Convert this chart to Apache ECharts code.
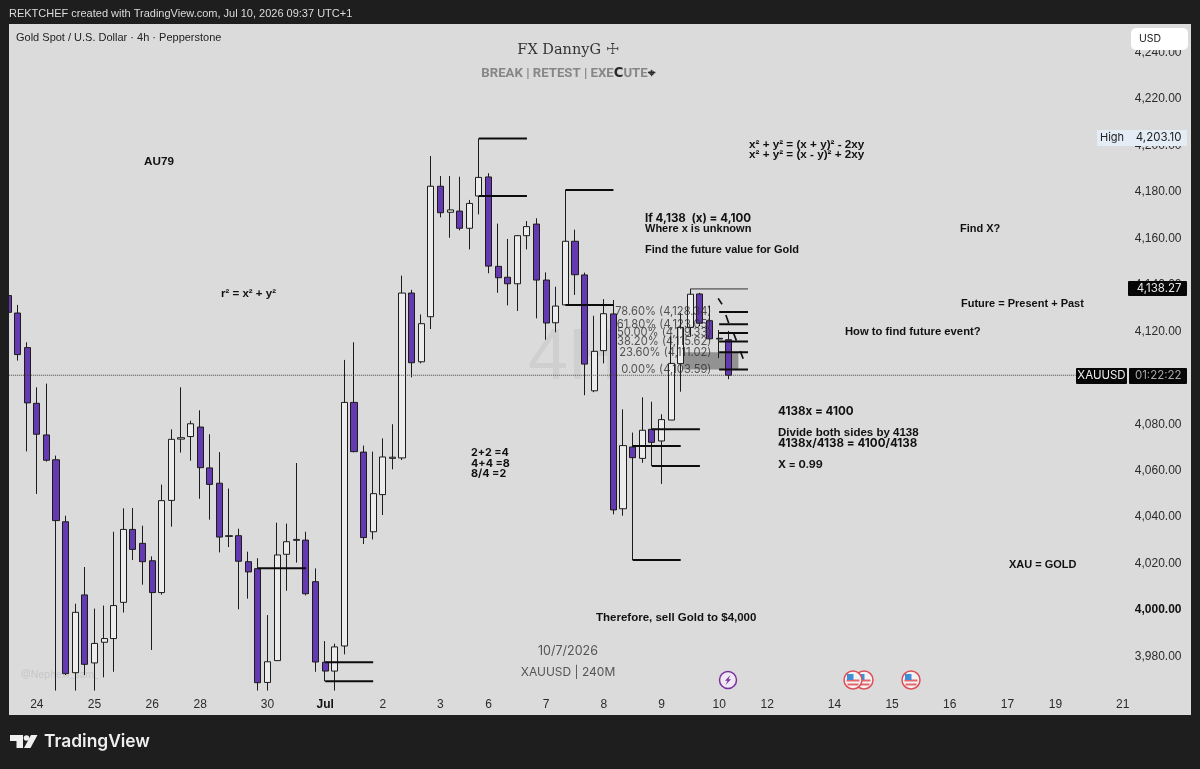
<!DOCTYPE html>
<html>
<head>
<meta charset="utf-8">
<title>XAUUSD 4h</title>
<style>html,body{margin:0;padding:0;background:#1e1e1e}#chart{width:1200px;height:769px}</style>
<script src="https://cdn.jsdelivr.net/npm/echarts@6/dist/echarts.min.js"></script>
</head>
<body>
<div id="chart"></div>
<script>
// 4h XAUUSD candles
const opens = [4135.4,4127.9,4113.0,4089.0,4075.4,4064.7,4038.0,3973.0,4006.5,3977.2,3986.1,3987.7,4003.3,4034.7,4028.7,4021.2,4007.5,4047.2,4073.6,4074.7,4078.8,4061.2,4054.6,4031.7,4032.0,4020.8,4017.8,3968.8,3978.2,4024.0,4030.0,4030.1,4012.2,3977.5,3973.7,3984.5,4089.4,4068.0,4033.7,4049.7,4065.3,4065.5,4136.5,4106.9,4126.3,4182.5,4171.3,4171.8,4164.4,4178.3,4186.5,4148.0,4143.3,4140.5,4161.2,4166.2,4142.1,4123.7,4131.4,4158.8,4144.3,4094.4,4111.7,4127.5,4043.6,4070.2,4065.3,4077.8,4072.8,4081.8,4106.1,4121.7,4136.1,4124.6,4117.0,4116.4];
const closes = [4128.2,4110.0,4089.2,4075.7,4064.5,4038.5,3972.6,3999.0,3976.6,3985.6,3987.7,4001.9,4034.7,4026.1,4020.8,4007.5,4047.1,4073.5,4074.2,4080.2,4061.3,4054.1,4031.4,4032.0,4021.0,4016.4,3968.7,3977.7,4023.7,4029.4,4030.4,4007.0,3977.6,3973.7,3984.1,4089.4,4068.2,4031.2,4050.1,4065.9,4065.8,4136.5,4106.5,4123.3,4182.5,4171.1,4172.3,4164.4,4175.1,4186.3,4148.1,4143.1,4140.5,4161.2,4165.1,4142.1,4123.6,4130.9,4158.8,4144.4,4105.9,4111.4,4127.6,4043.1,4070.8,4065.6,4077.4,4072.2,4082.0,4106.2,4121.7,4136.0,4123.5,4116.8,4116.7,4101.1];
const lows = [4127.0,4107.4,4068.3,4050.0,4063.9,3965.3,3972.0,3965.3,3972.0,3965.3,3971.0,3973.4,3998.9,4021.5,4010.9,3982.8,4006.6,4035.9,4067.8,4064.3,4047.9,4038.9,4024.8,4027.1,4000.3,4004.9,3965.3,3965.3,3978.2,4008.3,4020.4,4006.3,3973.4,3969.3,3965.3,3980.9,4067.9,4028.4,4030.4,4040.9,4060.6,4064.6,4100.2,4106.2,4121.0,4169.1,4160.3,4163.5,4155.3,4170.4,4145.0,4136.6,4131.2,4128.8,4155.3,4125.6,4116.4,4119.6,4131.4,4135.7,4092.5,4093.8,4106.2,4041.2,4040.6,4021.5,4063.4,4062.0,4054.3,4081.8,4094.0,4117.7,4122.3,4116.3,4108.5,4099.4];
const highs = [4136.5,4131.4,4115.3,4095.9,4097.5,4066.5,4040.6,4002.7,4018.5,4000.6,4001.9,4033.7,4043.8,4043.9,4036.3,4023.1,4054.0,4077.8,4095.9,4081.5,4086.0,4075.7,4068.0,4052.3,4035.0,4025.1,4022.3,3997.8,4037.6,4037.2,4063.3,4033.7,4017.9,3986.6,3985.5,4107.7,4115.3,4070.8,4068.2,4073.9,4080.0,4144.0,4137.9,4127.3,4195.5,4186.9,4186.9,4186.6,4176.6,4203.1,4188.1,4166.4,4159.8,4161.5,4167.5,4168.7,4145.4,4139.2,4180.9,4163.8,4145.3,4126.7,4133.9,4133.5,4086.4,4076.4,4091.6,4089.7,4084.3,4117.7,4127.9,4138.27,4136.6,4131.1,4120.6,4120.2];

// Time axis
const barCount = 123;
const tickBars = [3,9,15,20,27,33,39,45,50,56,62,68,74,79,86,92,98,104,109,116];
const tickLabels = ['24','25','26','28','30','Jul','2','3','6','7','8','9','10','12','14','15','16','17','19','21'];

// Price axis
const priceMin = 3960, priceMax = 4240, priceStep = 20;
const lastPrice = 4101.1, sessionHigh = 4203.10;

// Drawn levels: [from bar, price, to bar, price]
const rays = [
  [49,4203.1,54,4203.1],[49,4178.3,54,4178.3],
  [58,4180.9,63,4180.9],[58,4131.4,63,4131.4],
  [26,4018.0,31,4018.0],
  [33,3977.5,38,3977.5],[33,3969.3,38,3969.3],
  [65,4070.6,70,4070.6],[65,4021.5,70,4021.5],
  [67,4077.8,72,4077.8],[67,4062.0,72,4062.0]
];
const ticks = [
  [73.9,4134.2,74.3,4131.7],[74.7,4127.0,75.0,4123.5],
  [75.5,4119.2,75.8,4116.0],[76.2,4111.5,76.5,4108.2]
];

// Fibonacci retracement
const fibPercents = ['78.60%','61.80%','50.00%','38.20%','23.60%','0.00%'];
const fibPrices = [4128.34,4123.05,4119.33,4115.62,4111.02,4103.59];
const fibTop = 4138.27;
const fibStartBar = 74, fibEndBar = 77, fibLabelBar = 73.2;

const categories = Array.from({length: barCount}, (_, i) => {
  const k = tickBars.indexOf(i);
  return k < 0 ? '' : tickLabels[k];
});
const candles = opens.map((o, i) => [o, closes[i], lows[i], highs[i]]);
const money = v => v.toLocaleString('en-US', {minimumFractionDigits: 2, maximumFractionDigits: 2});

const DARK = '#1e1e1e', PANEL = '#dbdbdb', INK = '#111';
const UI = 'Inter, "Liberation Sans", sans-serif';
const SANS = '"Liberation Sans", sans-serif';

function segmentSeries(seg, width, color, type) {
  return {
    type: 'line', xAxisIndex: 1, yAxisIndex: 0, z: 6, silent: true, symbol: 'none',
    lineStyle: {width, color, type: type || 'solid'},
    data: [[seg[0], seg[1]], [seg[2], seg[3]]]
  };
}

function txt(text, x, y, font, fill, align, z) {
  return {type: 'text', x, y, z: z || 60, silent: true,
    style: {text, font, fill, align: align || 'left', verticalAlign: 'middle'}};
}
function note(text, x, y, size) {
  return txt(text, x, y + 1, 'bold ' + (size || 11.5) + 'px ' + SANS, INK);
}
// figures set in the wider face
function sum(text, x, y, size) {
  return txt(text, x, y + 1, 'bold ' + (size || 10.8) + 'px Inter, sans-serif', INK);
}
function box(x, y, w, h, fill, r, z) {
  return {type: 'rect', z: z || 50, silent: true, shape: {x, y, width: w, height: h, r: r || 0}, style: {fill}};
}
function flag(x, y, z) {
  return {type: 'group', x, y, z, silent: true, children: [
    {type: 'circle', z, shape: {r: 9}, style: {fill: '#f3f3f3', stroke: '#dd4f58', lineWidth: 1.5}},
    {type: 'rect', z: z + 1, shape: {x: -6.5, y: -0.5, width: 13, height: 2}, style: {fill: '#e2666c'}},
    {type: 'rect', z: z + 1, shape: {x: -5.5, y: 3.5, width: 11, height: 2}, style: {fill: '#e2666c'}},
    {type: 'rect', z: z + 2, shape: {x: -6, y: -6, width: 6.5, height: 6}, style: {fill: '#3f8fd8'}}
  ]};
}

const graphicEls = [
  // chart pane and the frame around it
  box(9, 24, 1182, 691, PANEL, 0, -20),
  txt('4H', 528, 359, '72px "Liberation Sans", sans-serif', '#cfcfcf', 'left', -10),
  box(0, 0, 9, 769, DARK, 0, 40),
  box(0, 0, 1200, 24, DARK, 0, 40),
  box(0, 715, 1200, 54, DARK, 0, 40),
  box(1191, 0, 9, 769, DARK, 0, 40),

  txt('REKTCHEF created with TradingView.com, Jul 10, 2026 09:37 UTC+1', 9, 14, '11px ' + SANS, '#dcdcdc'),
  txt('Gold Spot / U.S. Dollar · 4h · Pepperstone', 16, 38, '11px ' + SANS, '#222'),

  // centred title block
  txt('FX DannyG ☩', 568, 50, '14.5px "DejaVu Serif", serif', '#333', 'center'),
  {type: 'text', x: 568, y: 74, z: 60, silent: true, style: {
    text: '{g|BREAK | RETEST | EXE}{k|C}{g|UTE}{k|⌖}', align: 'center', verticalAlign: 'middle',
    rich: {
      g: {fontFamily: 'Roboto, sans-serif', fontWeight: 'bold', fontSize: 13.2, fill: '#868686'},
      k: {fontFamily: '"DejaVu Sans", sans-serif', fontWeight: 'bold', fontSize: 13.2, fill: '#2a2a2a'}
    }}},

  // worked notes
  note('AU79', 144, 161, 11.7),
  note('r² = x² + y²', 221, 293),
  note('x² + y² = (x + y)² - 2xy', 749, 144, 11.7),
  note('x² + y² = (x - y)² + 2xy', 749, 154, 11.7),
  sum('If 4,138  (x) = 4,100', 645, 218, 11.6),
  note('Where x is unknown', 645, 228, 11),
  note('Find the future value for Gold', 645, 249, 11),
  note('Find X?', 960, 228, 11),
  note('Future = Present + Past', 961, 303, 11),
  note('How to find future event?', 845, 331, 11.25),
  sum('4138x = 4100', 778, 411, 11.6),
  note('Divide both sides by 4138', 778, 432),
  sum('4138x/4138 = 4100/4138', 778, 443, 11.6),
  sum('X = 0.99', 778, 464),
  sum('2+2 =4', 471, 452),
  sum('4+4 =8', 471, 463),
  sum('8/4 =2', 471, 473),
  note('XAU = GOLD', 1009, 564, 11),
  note('Therefore, sell Gold to $4,000', 596, 617),

  txt('10/7/2026', 568, 651, '12.5px ' + UI, '#555', 'center'),
  txt('XAUUSD | 240M', 568, 672, '12px ' + UI, '#555', 'center'),
  txt('@Nephew_sam_', 21, 675, '10px ' + UI, '#c6c6c6', 'left', 1),

  // price scale tags
  box(1131, 28, 57, 22, '#ffffff', 5),
  txt('USD', 1139, 39, '10.5px ' + UI, '#222'),
  box(1097, 130, 32, 16, '#e4ecf6'),
  box(1129, 130, 58, 16, '#e4ecf6'),
  txt('High', 1112, 138, '11px ' + UI, '#222', 'center'),
  txt(money(sessionHigh), 1181.5, 138, '11.5px ' + UI, '#222', 'right'),
  box(1128, 281, 59, 15, '#060606', 1),
  txt(money(fibTop), 1181.5, 288.5, '11.5px ' + UI, '#e8e8e8', 'right'),
  box(1076, 368, 51, 16, '#060606', 1),
  box(1129, 368, 58, 16, '#060606', 1),
  txt('XAUUSD', 1101.5, 376, '11.5px ' + UI, '#eeeeee', 'center'),
  txt('01:22:22', 1181.5, 376, '11.5px ' + UI, '#a8a8a8', 'right'),

  // economic calendar markers
  {type: 'group', x: 728, y: 680, z: 70, silent: true, children: [
    {type: 'circle', z: 70, shape: {r: 8.5}, style: {fill: '#efe9f5', stroke: '#7a2f9e', lineWidth: 1.5}},
    {type: 'polygon', z: 71, shape: {points: [[2.5,-5],[-3,0.8],[-0.4,0.8],[-2.5,5],[3,-0.8],[0.4,-0.8]]}, style: {fill: '#7a2f9e'}}
  ]},
  flag(864, 680, 70),
  flag(853, 680, 74),
  flag(911, 680, 70),

  // footer logo
  {type: 'polygon', z: 60, silent: true, shape: {points: [[10,735],[23,735],[23,748],[16.5,748],[16.5,741],[10,741]]}, style: {fill: '#efefef'}},
  {type: 'circle', z: 60, silent: true, shape: {cx: 26.5, cy: 738, r: 2.8}, style: {fill: '#efefef'}},
  {type: 'polygon', z: 60, silent: true, shape: {points: [[31,735],[37.5,735],[30.5,748],[24,748]]}, style: {fill: '#efefef'}},
  txt('TradingView', 44, 742, '600 17.4px ' + UI, '#efefef')
];

const series = [
  {
    // shaded retracement band
    type: 'line', xAxisIndex: 1, yAxisIndex: 0, z: 1, silent: true, symbol: 'none',
    lineStyle: {width: 0}, data: [[70.2, fibPrices[5]], [76, fibPrices[5]]],
    markArea: {silent: true, itemStyle: {color: '#929292'}, data: [[
      {xAxis: 70.2, yAxis: fibPrices[4]}, {xAxis: 76, yAxis: fibPrices[5]}
    ]]}
  },
  {
    type: 'candlestick', xAxisIndex: 0, yAxisIndex: 0, z: 5, silent: true,
    barWidth: 6.6, data: candles,
    itemStyle: {color: '#ececec', color0: '#6539b0', borderColor: '#1c1c1c', borderColor0: '#1c1c1c', borderWidth: 1}
  },
  segmentSeries([-0.5, lastPrice, 111.1, lastPrice], 1, '#444', 'dotted')
];
rays.forEach(r => series.push(segmentSeries(r, 2, '#0c0c0c')));
ticks.forEach(t => series.push(segmentSeries(t, 1.6, '#0c0c0c')));
series.push(segmentSeries([71, fibTop, 77, fibTop], 1, '#333'));
fibPrices.forEach(p => series.push(segmentSeries([fibStartBar, p, fibEndBar, p], 2, '#0c0c0c')));
series.push({
  type: 'scatter', xAxisIndex: 1, yAxisIndex: 0, z: 8, silent: true, symbolSize: 0,
  data: fibPrices.map((p, i) => ({value: [fibLabelBar, p], name: fibPercents[i] + ' (' + money(p) + ')'})),
  label: {show: true, position: 'left', distance: 0, formatter: '{b}', fontFamily: 'Inter, sans-serif', fontSize: 11.2, color: '#2e2e2e'}
});

const chart = echarts.init(document.getElementById('chart'), null, {renderer: 'canvas'});
chart.setOption({
  animation: false,
  backgroundColor: DARK,
  grid: {left: 3.195, top: 52.72, width: 1182.03, height: 650.16, containLabel: false},
  xAxis: [
    {
      type: 'category', data: categories, boundaryGap: true,
      axisLine: {show: false}, axisTick: {show: false}, splitLine: {show: false},
      axisLabel: {
        interval: (i, v) => v !== '', margin: 2, verticalAlign: 'middle', hideOverlap: false,
        color: '#2b2b2b', fontFamily: 'Liberation Sans, sans-serif', fontSize: 12,
        formatter: v => v === 'Jul' ? '{m|Jul}' : v,
        rich: {m: {fontFamily: 'Liberation Sans, sans-serif', fontSize: 12, fontWeight: 'bold', color: '#111'}}
      }
    },
    {type: 'value', show: false, min: -0.5, max: barCount - 0.5, splitLine: {show: false}}
  ],
  yAxis: {
    type: 'value', position: 'right', min: priceMin, max: priceMax, interval: priceStep, scale: true,
    axisLine: {show: false}, axisTick: {show: false}, splitLine: {show: false},
    axisLabel: {
      inside: true, margin: 3.7, showMinLabel: false, color: '#2b2b2b', fontFamily: 'Liberation Sans, sans-serif', fontSize: 12,
      formatter: v => v === 4000 ? '{b|' + money(v) + '}' : money(v),
      rich: {b: {fontFamily: 'Liberation Sans, sans-serif', fontSize: 12, fontWeight: 'bold', color: '#111'}}
    }
  },
  graphic: {elements: graphicEls},
  series
});
</script>
</body>
</html>
